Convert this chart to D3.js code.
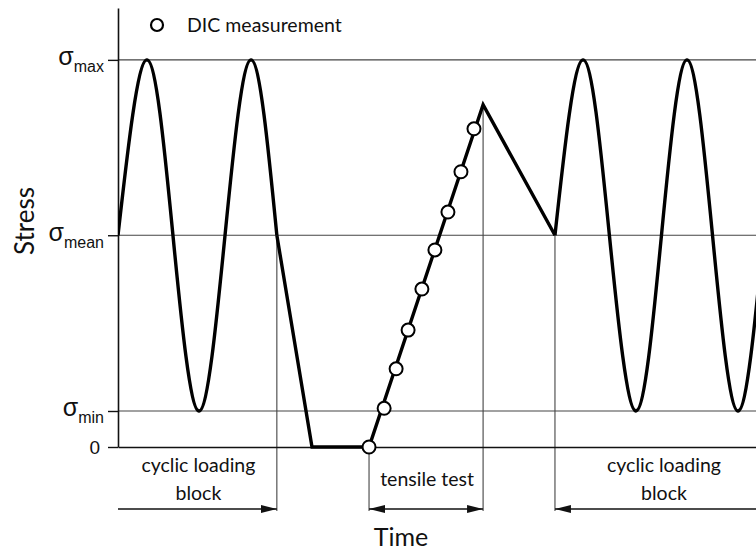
<!DOCTYPE html>
<html>
<head>
<meta charset="utf-8">
<script src="https://cdn.jsdelivr.net/npm/d3@7"></script>
<style>
  body { margin: 0; background: #fff; }
  text { font-family: Lato, "Open Sans", sans-serif; fill: #111; }
</style>
</head>
<body>
<svg></svg>
<script>
// stress levels on the y axis: 0, sigma min, sigma mean, sigma max
var stressLevels = [0, 0.93, 5.47, 10];
var stressLabels = ['0', 'min', 'mean', 'max'];

// first cyclic loading block (mean crossings and extremes)
var cycle1Time = [0, 1.11, 2.11, 3.11, 4.11, 5.11, 6.1];
var cycle1Stress = [5.47, 10, 5.47, 0.93, 5.47, 10, 5.47];

// unloading, hold at zero, tensile test ramp, unloading to mean
var rampTime = [6.1, 7.45, 9.64, 14.02, 16.78];
var rampStress = [5.47, 0, 0, 8.84, 5.47];

// second cyclic loading block (runs past the right edge)
var cycle2Time = [16.78, 17.86, 18.87, 19.89, 20.87, 21.85, 22.83, 23.81, 24.79];
var cycle2Stress = [5.47, 10, 5.47, 0.93, 5.47, 10, 5.47, 0.93, 5.47];

// DIC measurement points along the tensile ramp
var dicTime = [9.64, 10.22, 10.68, 11.14, 11.67, 12.17, 12.67, 13.17, 13.67];
var dicStress = [0, 1.0, 2.02, 3.02, 4.08, 5.09, 6.07, 7.11, 8.22];

// block boundaries (time)
var blockStart1 = 0, blockEnd1 = 6.1;
var tensileStart = 9.64, tensileEnd = 14.02;
var blockStart2 = 16.78;

var margin = {top: 8, right: 0, bottom: 107, left: 118};
var width = 756 - margin.left - margin.right;
var height = 554 - margin.top - margin.bottom;

var svg = d3.select('svg')
    .attr('width', 756)
    .attr('height', 554);

var x = d3.scaleLinear().domain([0, 24.5]).range([0, width]);
var y = d3.scaleLinear().domain([0, 11.34]).range([height, 0]);

var defs = svg.append('defs');
defs.append('clipPath').attr('id', 'clip')
  .append('rect').attr('x', 0).attr('y', -5).attr('width', width).attr('height', height + 10);
defs.append('marker')
    .attr('id', 'head')
    .attr('markerUnits', 'userSpaceOnUse')
    .attr('viewBox', '0 -5 16 10')
    .attr('refX', 16).attr('refY', 0)
    .attr('markerWidth', 16).attr('markerHeight', 10)
    .attr('orient', 'auto-start-reverse')
  .append('path')
    .attr('d', 'M0,-4L16,0L0,4Z')
    .attr('fill', '#111');

var g = svg.append('g')
    .attr('transform', 'translate(' + margin.left + ',' + margin.top + ')');

// horizontal reference lines
g.append('g')
  .selectAll('line')
  .data(stressLevels.slice(1))
  .enter().append('line')
    .attr('x1', 0).attr('x2', width)
    .attr('y1', d => y(d)).attr('y2', d => y(d))
    .attr('stroke', '#444').attr('stroke-width', 1.1);

// vertical guide lines down to the arrows
var arrowY = 501;
var guides = [
  {t: blockEnd1, s: cycle1Stress[cycle1Stress.length - 1]},
  {t: tensileStart, s: 0},
  {t: tensileEnd, s: rampStress[3]},
  {t: blockStart2, s: cycle2Stress[0]}
];
g.append('g')
  .selectAll('line')
  .data(guides)
  .enter().append('line')
    .attr('x1', d => x(d.t)).attr('x2', d => x(d.t))
    .attr('y1', d => y(d.s)).attr('y2', arrowY + 2)
    .attr('stroke', '#444').attr('stroke-width', 1.1);

// axes
var yAxis = d3.axisLeft(y)
    .tickValues(stressLevels)
    .tickSize(10)
    .tickSizeOuter(0)
    .tickFormat('');

var yg = g.append('g').call(yAxis);
yg.select('.domain').attr('stroke', '#111').attr('stroke-width', 1.6);
yg.selectAll('.tick line').attr('stroke', '#111').attr('stroke-width', 1.4);

yg.selectAll('.tick').each(function(d, i) {
  var t = d3.select(this).append('text')
      .attr('x', -14)
      .attr('text-anchor', 'end')
      .style('font-family', '"Liberation Sans", Arial, sans-serif');
  if (i === 0) {
    t.attr('x', -18).attr('dy', '0.35em').style('font-size', '19px').text(stressLabels[i]);
  } else {
    t.attr('y', 5);
    t.append('tspan').style('font-size', '25px').text('σ');
    t.append('tspan').attr('dy', 7).style('font-size', '16px').text(stressLabels[i]);
  }
});

g.append('g')
    .attr('transform', 'translate(0,' + height + ')')
    .call(d3.axisBottom(x).tickValues([]).tickSizeOuter(0))
  .select('.domain').attr('stroke', '#111').attr('stroke-width', 1.6);

// stress history
var plot = g.append('g').attr('clip-path', 'url(#clip)');

var smooth = d3.line()
    .x(d => x(d[0])).y(d => y(d[1]))
    .curve(d3.curveNatural);
var straight = d3.line()
    .x(d => x(d[0])).y(d => y(d[1]));

plot.append('path')
    .attr('d', smooth(d3.zip(cycle1Time, cycle1Stress)))
    .attr('fill', 'none').attr('stroke', '#000').attr('stroke-width', 3.4);
plot.append('path')
    .attr('d', straight(d3.zip(rampTime, rampStress)))
    .attr('fill', 'none').attr('stroke', '#000').attr('stroke-width', 3.4)
    .attr('stroke-linejoin', 'miter');
plot.append('path')
    .attr('d', smooth(d3.zip(cycle2Time, cycle2Stress)))
    .attr('fill', 'none').attr('stroke', '#000').attr('stroke-width', 3.4);

g.append('g')
  .selectAll('circle')
  .data(d3.zip(dicTime, dicStress))
  .enter().append('circle')
    .attr('cx', d => x(d[0]))
    .attr('cy', d => y(d[1]))
    .attr('r', 6.5)
    .attr('fill', '#fff')
    .attr('stroke', '#000')
    .attr('stroke-width', 2);

// legend
svg.append('circle')
    .attr('cx', 157).attr('cy', 25).attr('r', 6)
    .attr('fill', '#fff').attr('stroke', '#000').attr('stroke-width', 2.2);
svg.append('text')
    .attr('x', 187).attr('y', 32)
    .style('font-size', '19.5px')
    .text('DIC measurement');

// block arrows
function arrow(x1, x2, both) {
  var l = g.append('line')
      .attr('x1', x1).attr('x2', x2)
      .attr('y1', arrowY).attr('y2', arrowY)
      .attr('stroke', '#111').attr('stroke-width', 1.5)
      .attr('marker-end', 'url(#head)');
  if (both) l.attr('marker-start', 'url(#head)');
}
arrow(x(blockStart1), x(blockEnd1), false);
arrow(x(tensileStart), x(tensileEnd), true);
arrow(width, x(blockStart2), false);

var blockLabels = [
  {cx: (x(blockStart1) + x(blockEnd1)) / 2 + 1, lines: ['cyclic loading', 'block']},
  {cx: 546, lines: ['cyclic loading', 'block']}
];
blockLabels.forEach(function(b) {
  b.lines.forEach(function(s, i) {
    g.append('text')
        .attr('x', b.cx).attr('y', 464 + i * 28)
        .attr('text-anchor', 'middle')
        .style('font-size', '19.5px')
        .text(s);
  });
});

g.append('text')
    .attr('x', (x(tensileStart) + x(tensileEnd)) / 2 + 1)
    .attr('y', 478)
    .attr('text-anchor', 'middle')
    .style('font-size', '19.5px')
    .text('tensile test');

// axis titles
svg.append('text')
    .attr('x', 401).attr('y', 546)
    .attr('text-anchor', 'middle')
    .style('font-size', '25px')
    .text('Time');

svg.append('text')
    .attr('transform', 'translate(34,221) rotate(-90)')
    .attr('text-anchor', 'middle')
    .style('font-size', '26px')
    .text('Stress');
</script>
</body>
</html>
